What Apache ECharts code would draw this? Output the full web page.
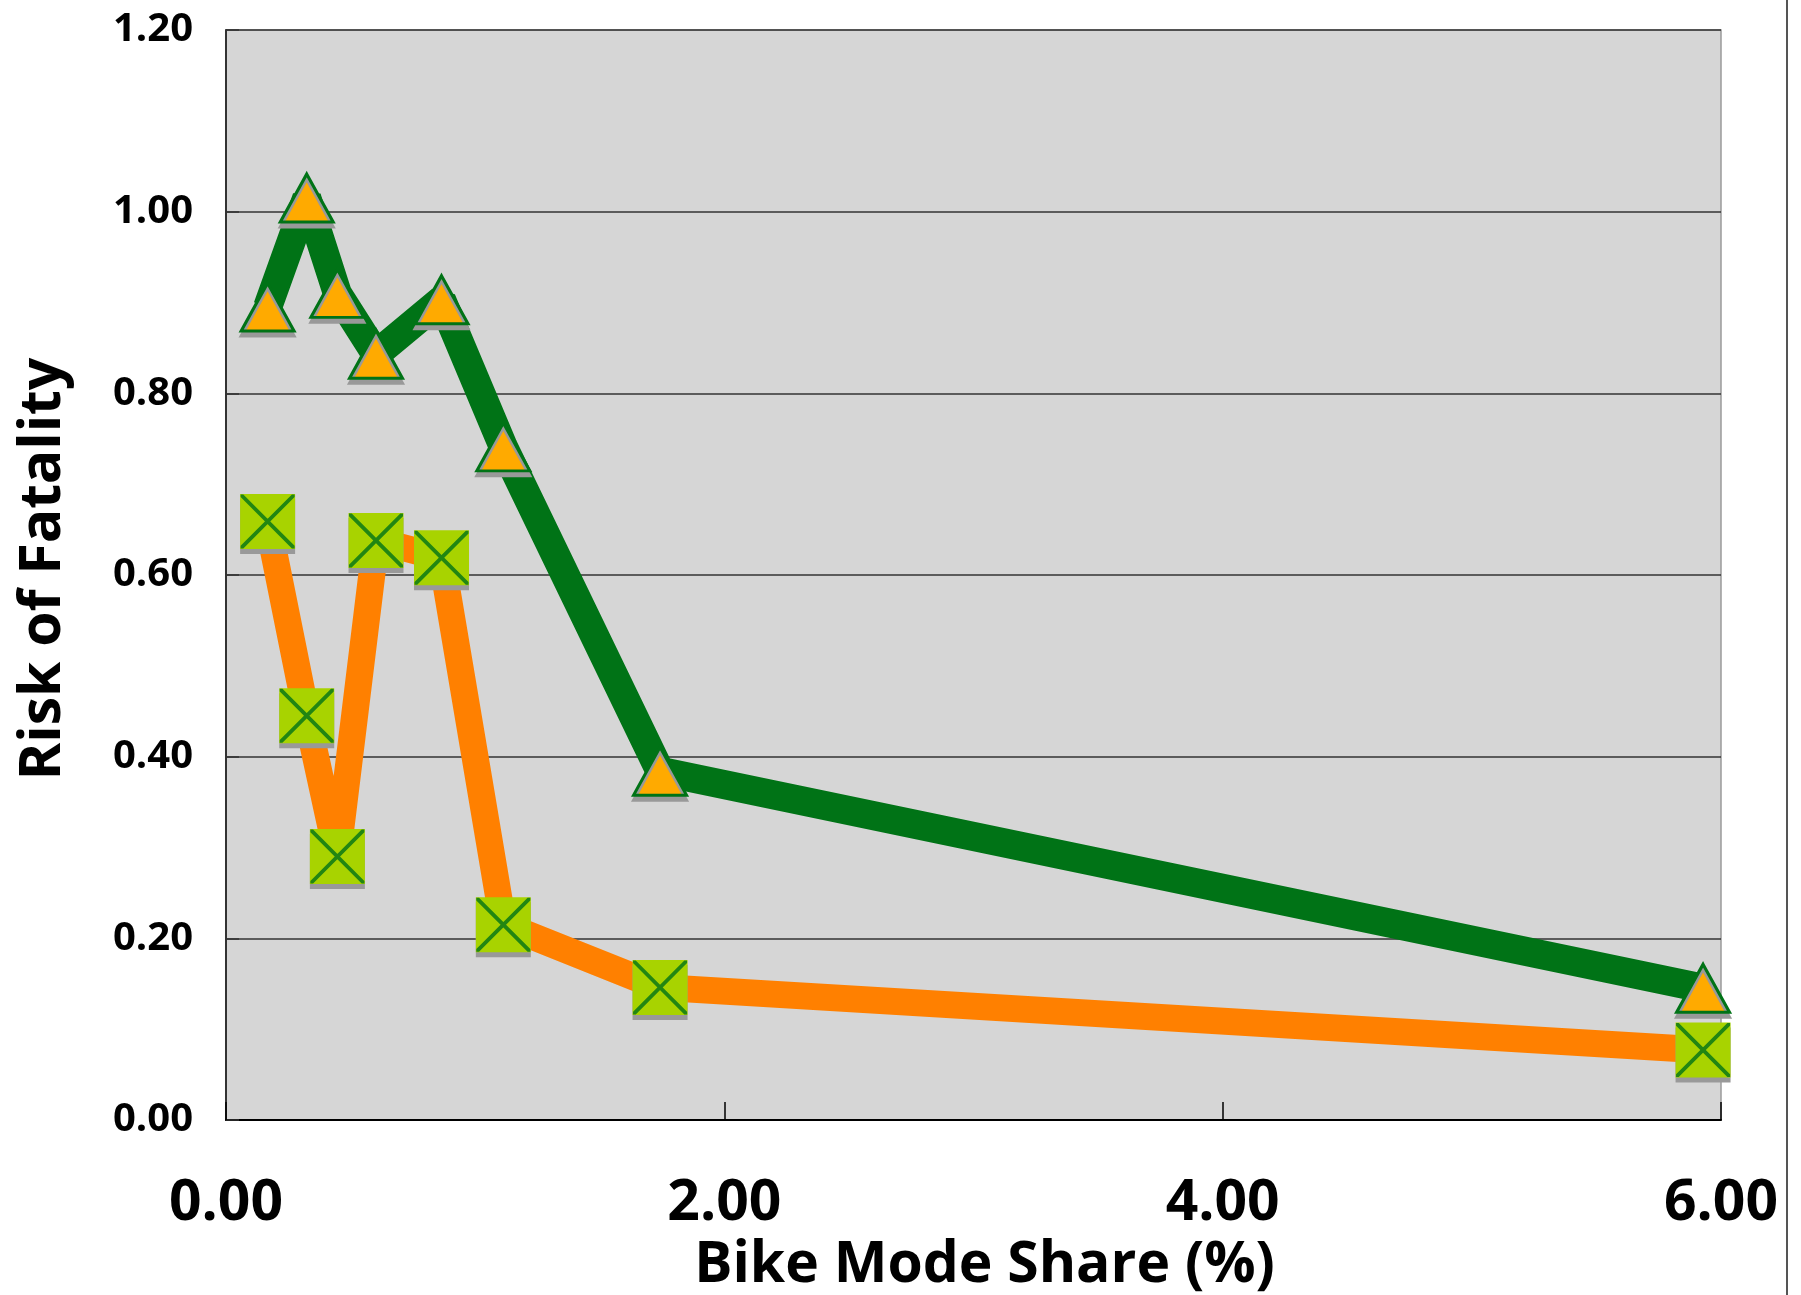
<!DOCTYPE html>
<html><head><meta charset="utf-8">
<script src="https://cdn.jsdelivr.net/npm/echarts@6/dist/echarts.min.js"></script>
<style>html,body{margin:0;padding:0;background:#fff}#c{width:1801px;height:1295px}</style>
</head><body><div id="c"></div>
<script>
const bikeShare = [0.167, 0.324, 0.447, 0.602, 0.865, 1.113, 1.742, 5.928];
const riskGreen = [0.895, 1.015, 0.910, 0.843, 0.903, 0.741, 0.384, 0.145];
const riskOrange = [0.659, 0.445, 0.290, 0.638, 0.619, 0.215, 0.146, 0.077];
const xTickStep = 2, xMin = 0, xMax = 6;
const yTickStep = 0.2, yMin = 0, yMax = 1.2;
const xTitle = 'Bike Mode Share (%)';
const yTitle = 'Risk of Fatality';

const pairs = ys => bikeShare.map((x, i) => [x, ys[i]]);
const FONT = "'Open Sans', 'DejaVu Sans', sans-serif";
const xPath = 'path://M0,0L5,0L100,95L100,100L95,100L0,5ZM100,0L100,5L5,100L0,100L0,95L95,0Z';

const chart = echarts.init(document.getElementById('c'), null, {renderer: 'canvas'});
chart.setOption({
  animation: false,
  backgroundColor: '#ffffff',
  grid: {left: 226, top: 30, right: 80, bottom: 175, show: true, outerBoundsMode: 'none', containLabel: false,
         backgroundColor: '#d6d6d6', borderColor: '#9a9a9a', borderWidth: 1.5},
  xAxis: {
    type: 'value', min: xMin, max: xMax, interval: xTickStep,
    name: xTitle, nameLocation: 'middle', nameGap: 114,
    nameTextStyle: {fontFamily: FONT, fontWeight: 'bold', fontSize: 57, color: '#000', padding: [0, 0, 0, 22]},
    axisLine: {show: true, onZero: false, lineStyle: {color: '#000', width: 2}},
    axisTick: {show: true, inside: true, length: 18, lineStyle: {color: '#000', width: 1.5}},
    splitLine: {show: false},
    axisLabel: {fontFamily: FONT, fontWeight: 'bold', fontSize: 57, color: '#000', margin: 55,
                formatter: v => v.toFixed(2)}
  },
  yAxis: {
    type: 'value', min: yMin, max: yMax, interval: yTickStep,
    name: yTitle, nameLocation: 'middle', nameRotate: 90, nameGap: 154,
    nameTextStyle: {fontFamily: FONT, fontWeight: 'bold', fontSize: 57, color: '#000', padding: [0, 0, 0, 12]},
    axisLine: {show: true, lineStyle: {color: '#333', width: 2}},
    axisTick: {show: true, inside: true, length: 13, lineStyle: {color: '#333', width: 1.5}},
    splitLine: {show: true, lineStyle: {color: '#333', width: 1.5}},
    axisLabel: {fontFamily: FONT, fontWeight: 'bold', fontSize: 40, color: '#000', margin: 33,
                formatter: v => v.toFixed(2)}
  },
  graphic: [{type: 'line', silent: true, shape: {x1: 1787, y1: 0, x2: 1787, y2: 1295},
             style: {stroke: '#555', lineWidth: 2}}],
  series: [
    {
      type: 'line', name: 'green', data: pairs(riskGreen),
      lineStyle: {color: '#007316', width: 29, join: 'bevel', cap: 'butt'},
      symbol: 'triangle', symbolSize: [53, 48], showAllSymbol: true,
      itemStyle: {color: '#ffaa00', borderColor: '#007316', borderWidth: 3,
                  shadowColor: '#999999', shadowOffsetX: 0, shadowOffsetY: 5, shadowBlur: 0}
    },
    {
      type: 'line', name: 'orange', data: pairs(riskOrange),
      lineStyle: {color: '#ff8000', width: 27, join: 'bevel', cap: 'butt'},
      symbol: 'rect', symbolSize: 55, showAllSymbol: true,
      itemStyle: {color: '#a8d300', borderWidth: 0,
                  shadowColor: '#999999', shadowOffsetX: 0, shadowOffsetY: 5, shadowBlur: 0}
    },
    {
      type: 'scatter', name: 'orangeX', data: pairs(riskOrange),
      symbol: xPath, symbolSize: 54, z: 5,
      itemStyle: {color: '#007316'}
    }
  ]
});
</script></body></html>
